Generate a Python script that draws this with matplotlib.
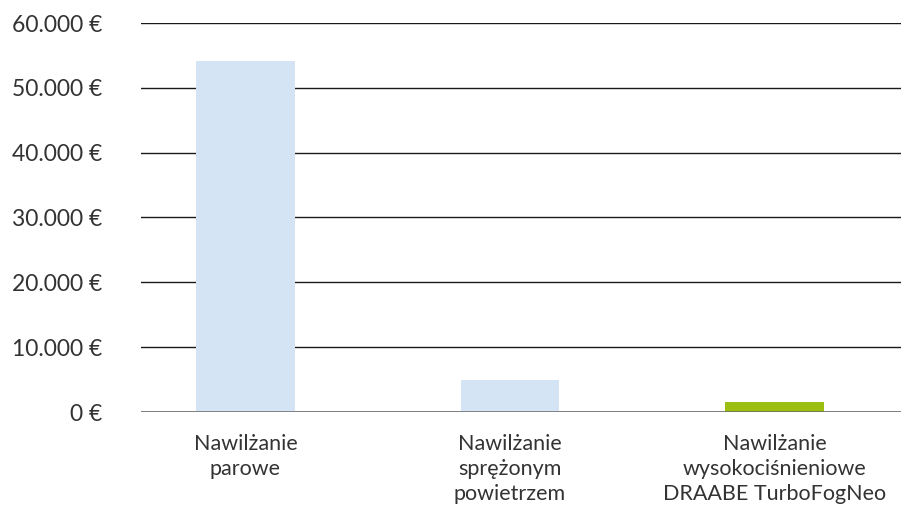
import matplotlib
matplotlib.use("Agg")
import matplotlib.pyplot as plt
from matplotlib.ticker import FuncFormatter

categories = ["Nawilżanie\nparowe", "Nawilżanie\nsprężonym\npowietrzem",
              "Nawilżanie\nwysokociśnieniowe\nDRAABE TurboFogNeo"]
values = [54200, 5000, 1500]
colors = ["#d4e4f4", "#d4e4f4", "#9bbe10"]
yticks = [0, 10000, 20000, 30000, 40000, 50000, 60000]

plt.rcParams['font.family'] = ['Lato', 'DejaVu Sans']

fig = plt.figure(figsize=(9.01, 5.11), dpi=100)
ax = fig.add_axes([141/901, (511-412)/511, 1 - 141/901, (412-23)/511])

x = list(range(len(categories)))
ax.bar(x, values, width=0.374, color=colors, zorder=3)
ax.set_xlim(-0.395, 2.478)
ax.set_ylim(0, 60000)
ax.set_yticks(yticks)
ax.yaxis.set_major_formatter(FuncFormatter(
    lambda v, p: (f"{int(v):,}".replace(",", ".") + " €")))
ax.grid(axis='y', color='#1a1a1a', linewidth=1.0, zorder=1)
ax.set_axisbelow(True)
for s in ax.spines.values():
    s.set_visible(False)
ax.axhline(0, color='#666666', linewidth=1.8, zorder=4)
ax.set_xticks(x)
ax.set_xticklabels(categories, fontsize=15.5, color='#333333', linespacing=1.3)
ax.tick_params(axis='x', length=0, pad=16)
ax.tick_params(axis='y', length=0, pad=28, labelsize=16.5, labelcolor='#333333')
ax.grid(axis='x', visible=False)

fig.savefig("out.png", dpi=100)
